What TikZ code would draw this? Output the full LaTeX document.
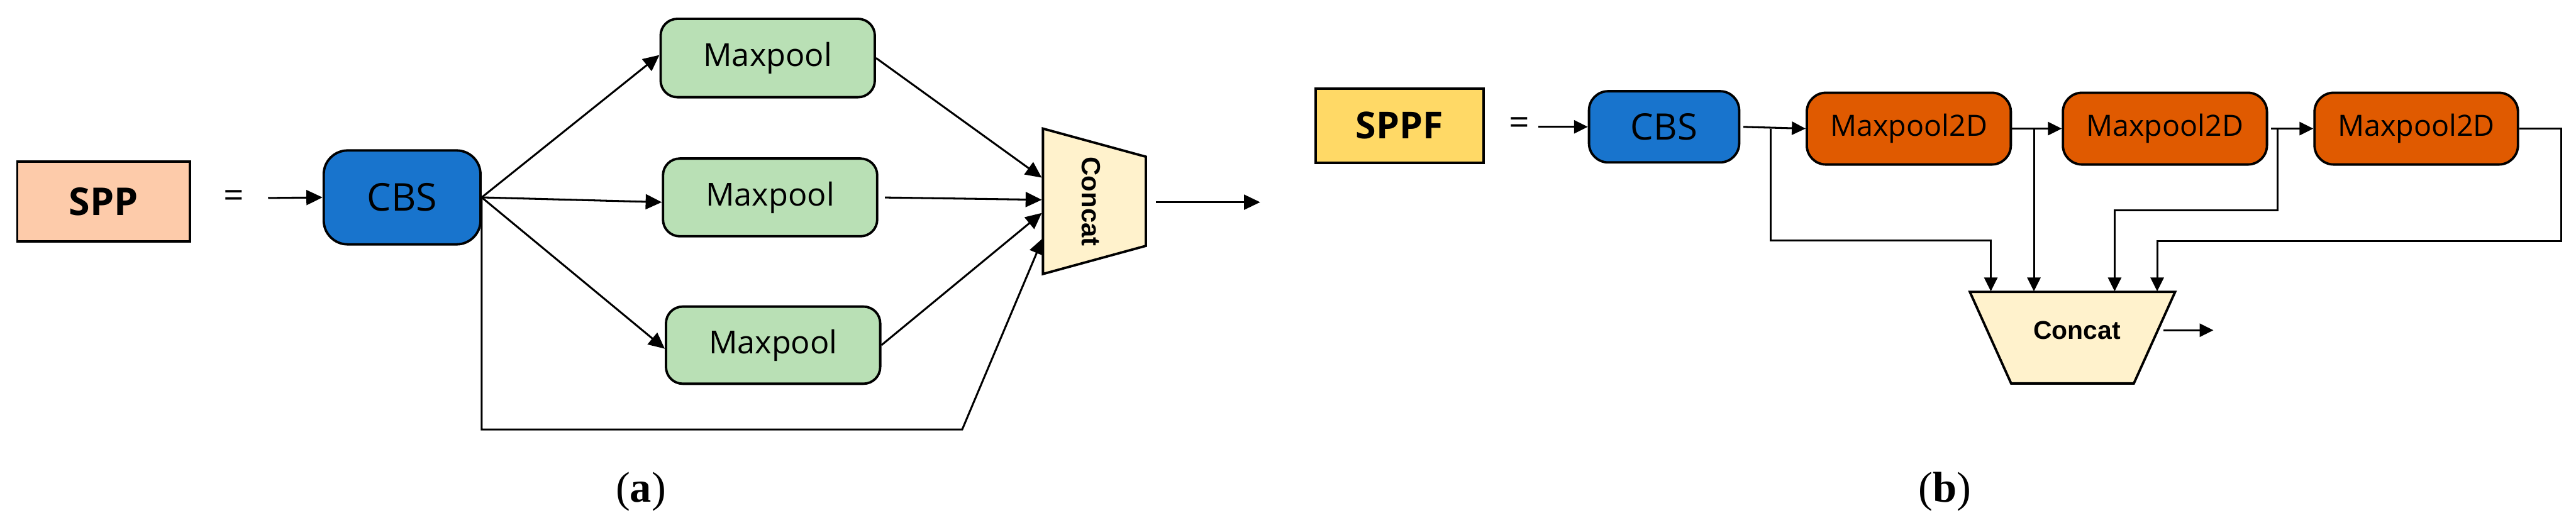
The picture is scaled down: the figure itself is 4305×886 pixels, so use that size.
\documentclass[tikz,border=0pt]{standalone}
\usepackage{fontspec}
\newfontfamily\osans{Open Sans}
\newfontfamily\lsans{Liberation Sans}
\newfontfamily\lserif{Liberation Serif}
\usetikzlibrary{arrows.meta}
\definecolor{sppc}{HTML}{FDCBAA}
\definecolor{cbsc}{HTML}{1874CD}
\definecolor{mpc}{HTML}{B9E0B5}
\definecolor{catc}{HTML}{FFF2CC}
\definecolor{sppfc}{HTML}{FFD966}
\definecolor{mptwo}{HTML}{E05A00}
\begin{document}
\begin{tikzpicture}[x=1pt,y=-1pt,
  box/.style={draw=black,line width=4pt,inner sep=0pt,text=black},
  rbox/.style={box,rounded corners=32pt},
  arr/.style={line width=3.2pt,-{Triangle[length=27pt,width=25pt]}},
  arrb/.style={line width=3.2pt,-{Triangle[length=23pt,width=22pt]}},
  eqs/.style={font=\osans\fontsize{60}{64}\selectfont,inner sep=0pt},
  captxt/.style={font=\lserif\fontsize{72}{80}\selectfont,inner sep=0pt},
]
\useasboundingbox (0,0) rectangle (4305,886);

% ---------------- (a) SPP ----------------
\node[box,fill=sppc,minimum width=288pt,minimum height=134pt,
      font=\osans\bfseries\fontsize{64}{70}\selectfont] (spp) at (173,337) {SPP};
\node[eqs] (eqa) at (391,333) {=};
\coordinate (ain) at (448,331);
\node[rbox,rounded corners=40pt,fill=cbsc,minimum width=262pt,minimum height=157pt,
      font=\osans\fontsize{64}{70}\selectfont] (cbsa) at (672,330) {CBS};
\node[rbox,rounded corners=28pt,fill=mpc,minimum width=358pt,minimum height=131pt,
      font=\osans\fontsize{53}{60}\selectfont] (mpa1) at (1283,97) {Maxpool};
\node[rbox,rounded corners=28pt,fill=mpc,minimum width=358pt,minimum height=130pt,
      font=\osans\fontsize{53}{60}\selectfont] (mpa2) at (1287,330) {Maxpool};
\node[rbox,rounded corners=28pt,fill=mpc,minimum width=358pt,minimum height=129pt,
      font=\osans\fontsize{53}{60}\selectfont] (mpa3) at (1292,577) {Maxpool};

% concat (a) trapezoid
\draw[line width=4pt,fill=catc,line join=miter]
  (1743,215) -- (1915,262) -- (1915,411) -- (1743,458) -- cycle;
\node[font=\lsans\bfseries\fontsize{44}{50}\selectfont,rotate=-90,inner sep=0pt]
  (cata) at (1823,337) {Concat};
\coordinate (ca1) at (1741,297);
\coordinate (ca2) at (1741,334);
\coordinate (ca3) at (1741,356);
\coordinate (ca4) at (1743,398);
\coordinate (cbend1) at (805,718);
\coordinate (cbend2) at (1608,718);
\coordinate (aoutS) at (1932,338);
\coordinate (aoutE) at (2106,338);

\draw[arr] (ain) -- (cbsa.west);
\draw[arr] (cbsa.east) -- ([yshift=5pt]mpa1.west);
\draw[arr] (cbsa.east) -- ([yshift=-8pt]mpa2.west);
\draw[arr] (cbsa.east) -- ([yshift=-6pt]mpa3.west);
\draw[arr] (mpa1.east) -- (ca1);
\draw[arr,shorten <=11pt] (mpa2.east) -- (ca2);
\draw[arr] (mpa3.east) -- (ca3);
\draw[arr] (cbsa.east) -- (cbend1) -- (cbend2) -- (ca4);
\draw[arr] (aoutS) -- (aoutE);

\node[captxt] (capa) at (1071,822) {(\textbf{a})};

% ---------------- (b) SPPF ----------------
\node[box,fill=sppfc,minimum width=280pt,minimum height=124pt,
      font=\osans\bfseries\fontsize{62}{70}\selectfont] (sppf) at (2339,210) {SPPF};
\node[eqs] (eqb) at (2539,211) {=};
\coordinate (bin) at (2571,212);
\node[rbox,fill=cbsc,minimum width=251pt,minimum height=119pt,
      font=\osans\fontsize{61}{66}\selectfont] (cbsb) at (2781,212) {CBS};
\node[rbox,fill=mptwo,minimum width=341pt,minimum height=120pt,
      font=\osans\fontsize{49}{56}\selectfont] (mpb1) at (3190,215) {Maxpool2D};
\node[rbox,fill=mptwo,minimum width=341pt,minimum height=120pt,
      font=\osans\fontsize{49}{56}\selectfont] (mpb2) at (3618,215) {Maxpool2D};
\node[rbox,fill=mptwo,minimum width=340pt,minimum height=120pt,
      font=\osans\fontsize{49}{56}\selectfont] (mpb3) at (4038,215) {Maxpool2D};

% concat (b) trapezoid
\draw[line width=4pt,fill=catc,line join=miter]
  (3292,488) -- (3635,488) -- (3566,641) -- (3361,641) -- cycle;
\node[font=\lsans\bfseries\fontsize{43}{50}\selectfont,inner sep=0pt]
  (catb) at (3471,552) {Concat};

\coordinate (j1) at (2959,215);
\coordinate (j1a) at (2959,402);
\coordinate (j1b) at (3327,402);
\coordinate (cb1) at (3327,487);
\coordinate (j2) at (3399,215);
\coordinate (cb2) at (3399,487);
\coordinate (j3) at (3806,215);
\coordinate (j3a) at (3806,352);
\coordinate (j3b) at (3534,352);
\coordinate (cb3) at (3534,487);
\coordinate (j4a) at (4280,215);
\coordinate (j4b) at (4280,403);
\coordinate (j4c) at (3605,403);
\coordinate (cb4) at (3605,487);
\coordinate (boutS) at (3616,552);
\coordinate (boutE) at (3699,552);

\draw[arrb] (bin) -- (cbsb.west);
\draw[arrb,shorten <=5pt] (cbsb.east) -- (mpb1.west);
\draw[arrb] (mpb1.east) -- (mpb2.west);
\draw[arrb,shorten <=5pt] (mpb2.east) -- (mpb3.west);
\draw[arrb] (j1) -- (j1a) -- (j1b) -- (cb1);
\draw[arrb] (j2) -- (cb2);
\draw[arrb] (j3) -- (j3a) -- (j3b) -- (cb3);
\draw[arrb] (mpb3.east) -- (j4a) -- (j4b) -- (j4c) -- (cb4);
\draw[arrb] (boutS) -- (boutE);

\node[captxt] (capb) at (3250,822) {(\textbf{b})};
\end{tikzpicture}
\end{document}
